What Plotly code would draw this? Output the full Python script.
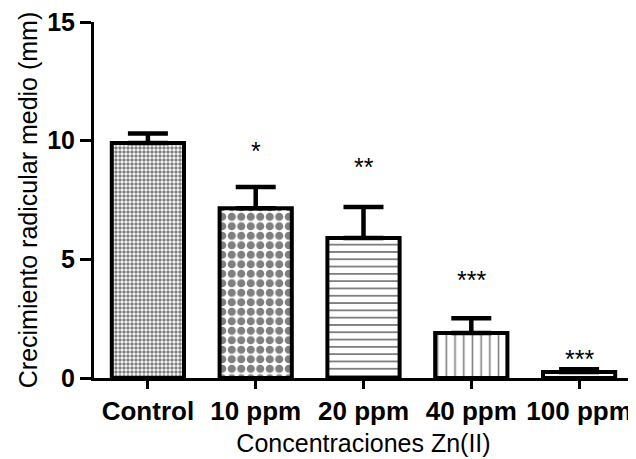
import plotly.graph_objects as go

categories = ["Control", "10 ppm", "20 ppm", "40 ppm", "100 ppm"]
means = [9.9, 7.15, 5.9, 1.9, 0.25]
sem = [0.4, 0.9, 1.3, 0.62, 0.12]
sig_labels = ["", "*", "**", "***", "***"]
sig_label_y = [None, 9.55, 8.9, 4.15, 0.82]

pattern_shapes = [".", ".", "-", "|", "-"]
pattern_sizes = [4, 9.5, 7.3, 8.7, 6]
pattern_solidity = [0.6, 0.58, 0.25, 0.18, 0.25]

FONT = "Arial, Liberation Sans, sans-serif"

fig = go.Figure()
fig.add_trace(go.Bar(
    x=categories,
    y=means,
    marker=dict(
        color="white",
        line=dict(color="black", width=4),
        pattern=dict(shape=pattern_shapes, size=pattern_sizes,
                     solidity=pattern_solidity, fgcolor="black",
                     bgcolor="white", fillmode="overlay"),
    ),
    error_y=dict(type="data", array=sem, arrayminus=[0] * len(sem),
                 symmetric=False, color="black", thickness=4.5, width=20),
    showlegend=False,
))

for cat, lab, yy in zip(categories, sig_labels, sig_label_y):
    if lab:
        fig.add_annotation(x=cat, y=yy, text=lab, showarrow=False,
                           yanchor="middle", xanchor="center",
                           font=dict(family=FONT, size=25, color="black"))

fig.update_layout(
    width=628, height=451,
    margin=dict(l=86, r=3, t=14, b=81),
    paper_bgcolor="white", plot_bgcolor="white",
    bargap=0.33,
    font=dict(family=FONT, color="black"),
)
fig.update_xaxes(
    type="category", range=[-0.5, 4.5],
    showline=True, linecolor="black", linewidth=3,
    ticks="outside", ticklen=8, tickwidth=3, tickcolor="black",
    tickfont=dict(family=FONT, size=26, color="black", weight="bold"),
    ticklabeloverflow="allow",
    showgrid=False, zeroline=False,
    title=dict(text="Concentraciones Zn(II)", font=dict(family=FONT, size=25, color="black"), standoff=10),
    automargin=False,
)
fig.update_yaxes(
    range=[0, 15], tickvals=[0, 5, 10, 15],
    showline=True, linecolor="black", linewidth=3,
    ticks="outside", ticklen=11, tickwidth=3, tickcolor="black",
    tickfont=dict(family=FONT, size=25, color="black", weight="bold"),
    ticklabeloverflow="allow",
    showgrid=False, zeroline=False,
    title=dict(text="Crecimiento radicular medio (mm)", font=dict(family=FONT, size=25, color="black"), standoff=3),
    automargin=False,
)

fig.write_html("out.html")
